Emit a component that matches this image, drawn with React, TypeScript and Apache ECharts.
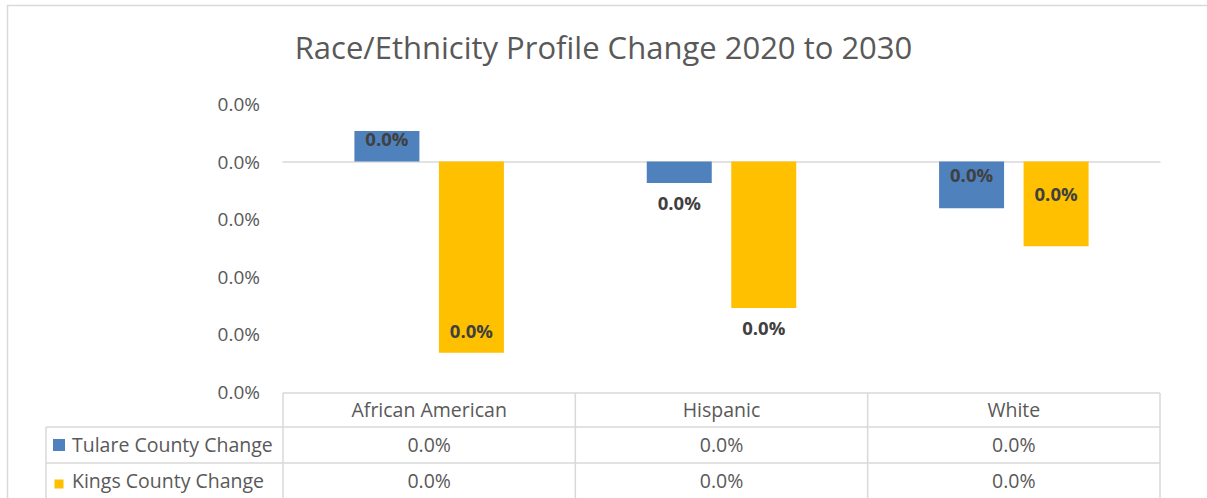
import React, { useEffect, useRef } from "react";
import * as echarts from "echarts";

const titleText = "Race/Ethnicity Profile Change 2020 to 2030";
const categories = ["African American", "Hispanic", "White"];
const seriesNames = ["Tulare County Change", "Kings County Change"];
const tulareChange = [0.000053, -0.000037, -0.000081];
const kingsChange = [-0.000332, -0.000254, -0.000147];
const yMin = -0.0004;
const yMax = 0.0001;
const yInterval = 0.0001;

const colors = ["#4F81BD", "#FFC000"];
const labelOffsets = [
  [-8, 30, -10],
  [73, 93, -10],
];

const W = 1207;
const H = 498;
const GRID = { left: 283, right: 1160, top: 104, bottom: 392 };
const ROWS = [393, 427, 463, 499];
const LABEL_LEFT = 46;
const LINE = "#D9D9D9";
const TEXT = "#595959";
const FONT = "'Open Sans', 'Noto Sans', sans-serif";

const fmt = (v: number) => {
  const s = (v * 100).toFixed(1);
  return (s === "-0.0" ? "0.0" : s) + "%";
};

export default function App() {
  const ref = useRef<HTMLDivElement>(null);
  useEffect(() => {
    if (!ref.current) return;
    const chart = echarts.init(ref.current, null, { renderer: "svg" });
    const allSeries = [tulareChange, kingsChange];
    const colW = (GRID.right - GRID.left) / categories.length;
    const graphics: any[] = [];
    const ln = (x1: number, y1: number, x2: number, y2: number) => ({
      type: "line",
      shape: { x1, y1, x2, y2 },
      style: { stroke: LINE, lineWidth: 1.5 },
      silent: true,
    });
    // chart border
    graphics.push(ln(7.5, 5, 7.5, H));
    graphics.push(ln(7, 5.5, W, 5.5));
    // table lines
    graphics.push(ln(GRID.left, ROWS[0], GRID.right, ROWS[0]));
    for (let r = 1; r < ROWS.length - 1; r++) {
      graphics.push(ln(LABEL_LEFT, ROWS[r], GRID.right, ROWS[r]));
    }
    graphics.push(ln(LABEL_LEFT, ROWS[1], LABEL_LEFT, H));
    for (let i = 0; i <= categories.length; i++) {
      const x = GRID.left + i * colW;
      graphics.push(ln(x, ROWS[0], x, H));
    }
    const txt = (x: number, y: number, s: string, align = "center") => ({
      type: "text",
      x,
      y,
      style: {
        text: s,
        fill: TEXT,
        font: `19.5px ${FONT}`,
        align,
        verticalAlign: "middle",
      },
      silent: true,
    });
    categories.forEach((c, i) => {
      const cx = GRID.left + (i + 0.5) * colW;
      graphics.push(txt(cx, (ROWS[0] + ROWS[1]) / 2 - 1, c));
      allSeries.forEach((arr, s) => {
        graphics.push(txt(cx, (ROWS[s + 1] + ROWS[s + 2]) / 2 - 1, fmt(arr[i])));
      });
    });
    seriesNames.forEach((n, s) => {
      const cy = (ROWS[s + 1] + ROWS[s + 2]) / 2;
      const sz = s === 0 ? 12 : 9;
      graphics.push({
        type: "rect",
        shape: { x: 53 + (12 - sz) / 2, y: cy - sz / 2 + (s === 0 ? 0 : 3), width: sz, height: sz },
        style: { fill: colors[s] },
        silent: true,
      });
      graphics.push(txt(72, cy - 1, n, "left"));
    });

    chart.setOption({
      animation: false,
      title: {
        text: titleText,
        left: "center",
        top: 26,
        textStyle: { fontFamily: FONT, fontSize: 31, fontWeight: "normal", color: TEXT },
      },
      grid: {
        left: GRID.left,
        right: W - GRID.right,
        top: GRID.top,
        bottom: H - GRID.bottom,
        containLabel: false,
      },
      xAxis: {
        type: "category",
        data: categories,
        axisLabel: { show: false },
        axisTick: { show: false },
        axisLine: { show: true, onZero: true, lineStyle: { color: LINE, width: 1.5 } },
      },
      yAxis: {
        type: "value",
        min: yMin,
        max: yMax,
        interval: yInterval,
        axisLine: { show: false },
        axisTick: { show: false },
        splitLine: { show: false },
        axisLabel: {
          formatter: (v: number) => fmt(v),
          color: TEXT,
          fontSize: 19,
          fontFamily: FONT,
          margin: 23,
        },
      },
      series: allSeries.map((arr, s) => ({
        name: seriesNames[s],
        type: "bar",
        barWidth: 65,
        barGap: "30%",
        itemStyle: { color: colors[s] },
        data: arr.map((v, i) => ({
          value: v,
          label: {
            show: true,
            position: "inside",
            offset: [0, labelOffsets[s][i]],
            formatter: (p: any) => fmt(p.value),
            fontFamily: FONT,
            fontWeight: "bold",
            fontSize: 18.5,
            color: "#404040",
          },
        })),
      })),
      graphic: graphics,
    });
    return () => chart.dispose();
  }, []);
  return (
    <div
      ref={ref}
      style={{ position: "absolute", left: 0, top: 0, width: W, height: H, background: "#fff" }}
    />
  );
}
